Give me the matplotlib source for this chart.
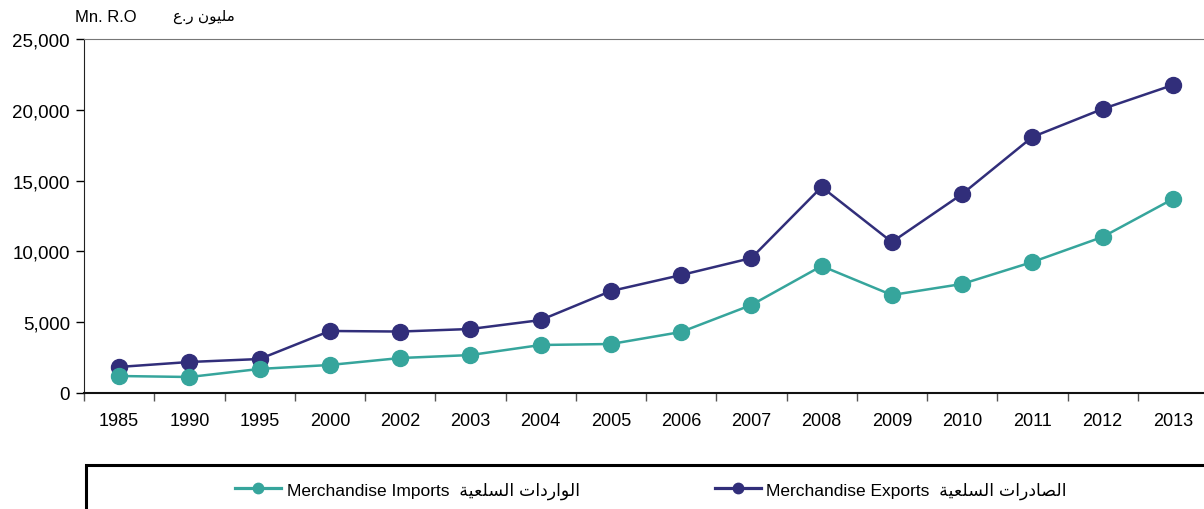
import matplotlib
matplotlib.use("Agg")
import matplotlib.pyplot as plt
from matplotlib.patches import Rectangle
from matplotlib.ticker import FuncFormatter, FixedLocator
import numpy as np

# DATA------------------------------------------------------------------------------------------------------------------
years = ["1985", "1990", "1995", "2000", "2002", "2003", "2004", "2005",
         "2006", "2007", "2008", "2009", "2010", "2011", "2012", "2013"]
exports = [1840, 2190, 2400, 4380, 4340, 4520, 5150, 7200,
           8330, 9530, 14550, 10660, 14050, 18080, 20060, 21750]
imports = [1200, 1130, 1700, 1980, 2470, 2680, 3390, 3460,
           4310, 6215, 8970, 6920, 7700, 9250, 11020, 13700]

unit_en = "Mn. R.O"
unit_ar = "مليون ر.ع"
imports_en = "Merchandise Imports"
imports_ar = "الواردات السلعية"
exports_en = "Merchandise Exports"
exports_ar = "الصادرات السلعية"

# minimal arabic shaping (matplotlib has no RTL / joining support)
FORMS = {  # isolated, final, initial, medial
    "ا": ("\uFE8D", "\uFE8E", None, None),
    "د": ("\uFEA9", "\uFEAA", None, None),
    "ر": ("\uFEAD", "\uFEAE", None, None),
    "و": ("\uFEED", "\uFEEE", None, None),
    "ة": ("\uFE93", "\uFE94", None, None),
    "ت": ("\uFE95", "\uFE96", "\uFE97", "\uFE98"),
    "س": ("\uFEB1", "\uFEB2", "\uFEB3", "\uFEB4"),
    "ص": ("\uFEB9", "\uFEBA", "\uFEBB", "\uFEBC"),
    "ع": ("\uFEC9", "\uFECA", "\uFECB", "\uFECC"),
    "ل": ("\uFEDD", "\uFEDE", "\uFEDF", "\uFEE0"),
    "م": ("\uFEE1", "\uFEE2", "\uFEE3", "\uFEE4"),
    "ن": ("\uFEE5", "\uFEE6", "\uFEE7", "\uFEE8"),
    "ي": ("\uFEF1", "\uFEF2", "\uFEF3", "\uFEF4"),
}


def shape(txt):
    out = []
    for i, ch in enumerate(txt):
        if ch not in FORMS:
            out.append(ch)
            continue
        prev = txt[i - 1] if i > 0 else ""
        nxt = txt[i + 1] if i + 1 < len(txt) else ""
        join_prev = prev in FORMS and FORMS[prev][2] is not None
        join_next = FORMS[ch][2] is not None and nxt in FORMS
        f = FORMS[ch]
        if join_prev and join_next:
            out.append(f[3])
        elif join_prev:
            out.append(f[1])
        elif join_next:
            out.append(f[2])
        else:
            out.append(f[0])
    return "".join(out)[::-1]


plt.rcParams['font.family'] = ['Liberation Sans', 'DejaVu Sans']

navy = "#312E7A"
teal = "#36A59C"

fig = plt.figure(figsize=(12.04, 5.10), dpi=100)
ax = fig.add_axes([84 / 1204, 1 - 394 / 510, 1124 / 1204, 354 / 510])

x = np.arange(len(years))
ax.plot(x, exports, color=navy, lw=1.8, marker="o", ms=11.5, zorder=3,
        label=exports_en + "  " + shape(exports_ar))
ax.plot(x, imports, color=teal, lw=1.8, marker="o", ms=11.5, zorder=3,
        label=imports_en + "  " + shape(imports_ar))

ax.set_xlim(-0.5, len(years) - 0.5)
ax.set_ylim(0, 25000)
ax.set_yticks(np.arange(0, 25001, 5000))
ax.yaxis.set_major_formatter(FuncFormatter(lambda v, p: "{:,.0f}".format(v)))
ax.set_xticks(x)
ax.set_xticklabels(years)
ax.xaxis.set_minor_locator(FixedLocator(np.arange(-0.5, len(years), 1.0)))
ax.tick_params(axis="x", which="major", length=0, pad=14, labelsize=13)
ax.tick_params(axis="x", which="minor", length=6, width=1, color="#555555")
ax.tick_params(axis="y", length=6, width=1, labelsize=13.5, pad=4)

ax.spines["right"].set_visible(False)
ax.spines["top"].set_color("#777777")
ax.spines["left"].set_color("#222222")
ax.spines["bottom"].set_color("#111111")
ax.spines["bottom"].set_linewidth(1.5)

fig.text(75 / 1204, 1 - 17 / 510, unit_en, fontsize=12, va="center", ha="left")
fig.text(235 / 1204, 1 - 17 / 510, shape(unit_ar), fontsize=11, va="center", ha="right")

# legend box
fig.patches.append(Rectangle((86 / 1204, -0.1), 1.1, (510 - 466) / 510 + 0.1,
                             transform=fig.transFigure, fill=False, lw=2.2,
                             edgecolor="black"))
h, l = ax.get_legend_handles_labels()
leg = fig.legend(h[::-1], l[::-1], loc="center", bbox_to_anchor=(651 / 1204, 1 - 491 / 510),
                 ncol=2, frameon=False, fontsize=12.5, handlelength=2.65, handletextpad=0.3,
                 columnspacing=7.8, markerscale=0.65)
for ln in leg.get_lines():
    ln.set_linewidth(2.3)

plt.savefig("out.png", dpi=100)
